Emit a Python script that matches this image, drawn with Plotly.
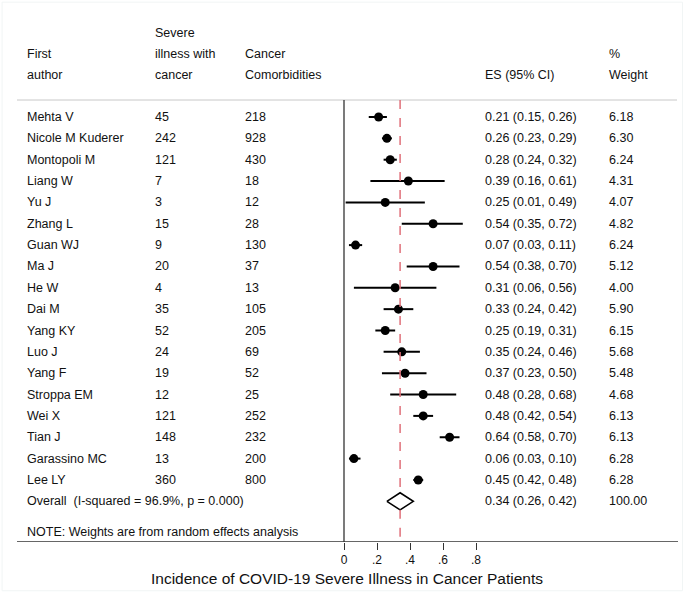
import plotly.graph_objects as go

authors = ["Mehta V", "Nicole M Kuderer", "Montopoli M", "Liang W", "Yu J", "Zhang L",
           "Guan WJ", "Ma J", "He W", "Dai M", "Yang KY", "Luo J", "Yang F",
           "Stroppa EM", "Wei X", "Tian J", "Garassino MC", "Lee LY"]
severe = [45, 242, 121, 7, 3, 15, 9, 20, 4, 35, 52, 24, 19, 12, 121, 148, 13, 360]
cancer = [218, 928, 430, 18, 12, 28, 130, 37, 13, 105, 205, 69, 52, 25, 252, 232, 200, 800]
es = [0.21, 0.26, 0.28, 0.39, 0.25, 0.54, 0.07, 0.54, 0.31, 0.33, 0.25, 0.35, 0.37, 0.48, 0.48, 0.64, 0.06, 0.45]
lo = [0.15, 0.23, 0.24, 0.16, 0.01, 0.35, 0.03, 0.38, 0.06, 0.24, 0.19, 0.24, 0.23, 0.28, 0.42, 0.58, 0.03, 0.42]
hi = [0.26, 0.29, 0.32, 0.61, 0.49, 0.72, 0.11, 0.70, 0.56, 0.42, 0.31, 0.46, 0.50, 0.68, 0.54, 0.70, 0.10, 0.48]
weight = [6.18, 6.30, 6.24, 4.31, 4.07, 4.82, 6.24, 5.12, 4.00, 5.90, 6.15, 5.68, 5.48, 4.68, 6.13, 6.13, 6.28, 6.28]
overall_es, overall_lo, overall_hi, overall_weight = 0.34, 0.26, 0.42, 100.00
overall_label = "Overall  (I-squared = 96.9%, p = 0.000)"
tick_vals = [0, 0.2, 0.4, 0.6, 0.8]
tick_text = ["0", ".2", ".4", ".6", ".8"]

W, H = 688, 595
PX0, PXU = 344, 165  # pixel of x=0, pixels per unit
def dx(p):
    return (p - PX0) / PXU

ROW0, ROWH = 117, 21.35
def ry(p):
    return (p - ROW0) / ROWH

bottom_px = 542
FONT = "Liberation Sans, Arial, Helvetica, sans-serif"
fs = 12.5

fig = go.Figure()
n = len(authors)
rows = list(range(n))

for i in rows:
    fig.add_trace(go.Scatter(x=[lo[i], hi[i]], y=[i, i], mode="lines",
                             line=dict(color="black", width=2), showlegend=False, hoverinfo="skip"))
fig.add_trace(go.Scatter(x=es, y=rows, mode="markers",
                         marker=dict(color="black", size=9), showlegend=False))

orow = n
dh = 0.4
fig.add_trace(go.Scatter(x=[overall_lo, overall_es, overall_hi, overall_es, overall_lo],
                         y=[orow, orow - dh, orow, orow + dh, orow], mode="lines",
                         line=dict(color="black", width=1.6), showlegend=False))

sep = ry(100)
ybot = ry(bottom_px)
red = dict(color="#e0707a", width=1.5, dash="dash")
shapes = [
    dict(type="line", xref="x", yref="y", x0=dx(17), x1=dx(677), y0=sep, y1=sep,
         line=dict(color="#c8c8c8", width=1)),
    dict(type="line", xref="x", yref="y", x0=0, x1=0, y0=sep, y1=ybot,
         line=dict(color="#333", width=1.3)),
    dict(type="line", xref="x", yref="y", x0=overall_es, x1=overall_es, y0=sep, y1=orow - dh,
         line=red),
    dict(type="line", xref="x", yref="y", x0=overall_es, x1=overall_es, y0=orow + dh, y1=ybot,
         line=red),
    dict(type="line", xref="x", yref="y", x0=dx(17), x1=dx(678), y0=ybot, y1=ybot,
         line=dict(color="#333", width=1.4)),
    dict(type="rect", xref="paper", yref="paper", x0=0.003, x1=0.992, y0=-0.09, y1=0.996,
         line=dict(color="#f1f5f5", width=1)),
]

annots = []
def txt(x, y, s, size=fs, anchor="left"):
    annots.append(dict(x=x, y=y, xref="x", yref="y", text=s, showarrow=False,
                       xanchor=anchor, yanchor="middle", font=dict(family=FONT, size=size, color="#111")))

cx = [dx(25), dx(153), dx(243), dx(483), dx(607)]
h1, h2, h3 = ry(33), ry(54), ry(75)
txt(cx[1], h1, "Severe")
txt(cx[0], h2, "First"); txt(cx[1], h2, "illness with"); txt(cx[2], h2, "Cancer"); txt(cx[4], h2, "%")
txt(cx[0], h3, "author"); txt(cx[1], h3, "cancer"); txt(cx[2], h3, "Comorbidities")
txt(cx[3], h3, "ES (95% CI)"); txt(cx[4], h3, "Weight")

for i in rows:
    txt(cx[0], i, authors[i])
    txt(cx[1], i, str(severe[i]))
    txt(cx[2], i, str(cancer[i]))
    txt(cx[3], i, f"{es[i]:.2f} ({lo[i]:.2f}, {hi[i]:.2f})")
    txt(cx[4], i, f"{weight[i]:.2f}")
txt(cx[0], orow, overall_label)
txt(cx[3], orow, f"{overall_es:.2f} ({overall_lo:.2f}, {overall_hi:.2f})")
txt(cx[4], orow, f"{overall_weight:.2f}")
txt(cx[0], ry(532), "NOTE: Weights are from random effects analysis")

annots.append(dict(x=dx(347), y=(bottom_px - 578) / bottom_px, xref="x", yref="paper",
                   yanchor="middle", xanchor="center", showarrow=False,
                   text="Incidence of COVID-19 Severe Illness in Cancer Patients",
                   font=dict(family=FONT, size=15.5, color="#111")))

fig.update_layout(
    width=W, height=H, margin=dict(l=0, r=0, t=0, b=H - bottom_px),
    plot_bgcolor="white", paper_bgcolor="white",
    shapes=shapes, annotations=annots, showlegend=False,
    xaxis=dict(range=[dx(0), dx(W)], tickvals=tick_vals, ticktext=tick_text,
               ticks="outside", ticklen=7, tickwidth=1.2, tickcolor="#333",
               showgrid=False, zeroline=False, showline=False,
               tickfont=dict(family=FONT, size=12, color="#111")),
    yaxis=dict(range=[ybot, ry(0)], showgrid=False, zeroline=False,
               showticklabels=False, showline=False),
)
fig.write_html("out.html", config={"displayModeBar": False},
               post_script="document.body.style.margin='0';document.body.style.overflow='hidden';")
